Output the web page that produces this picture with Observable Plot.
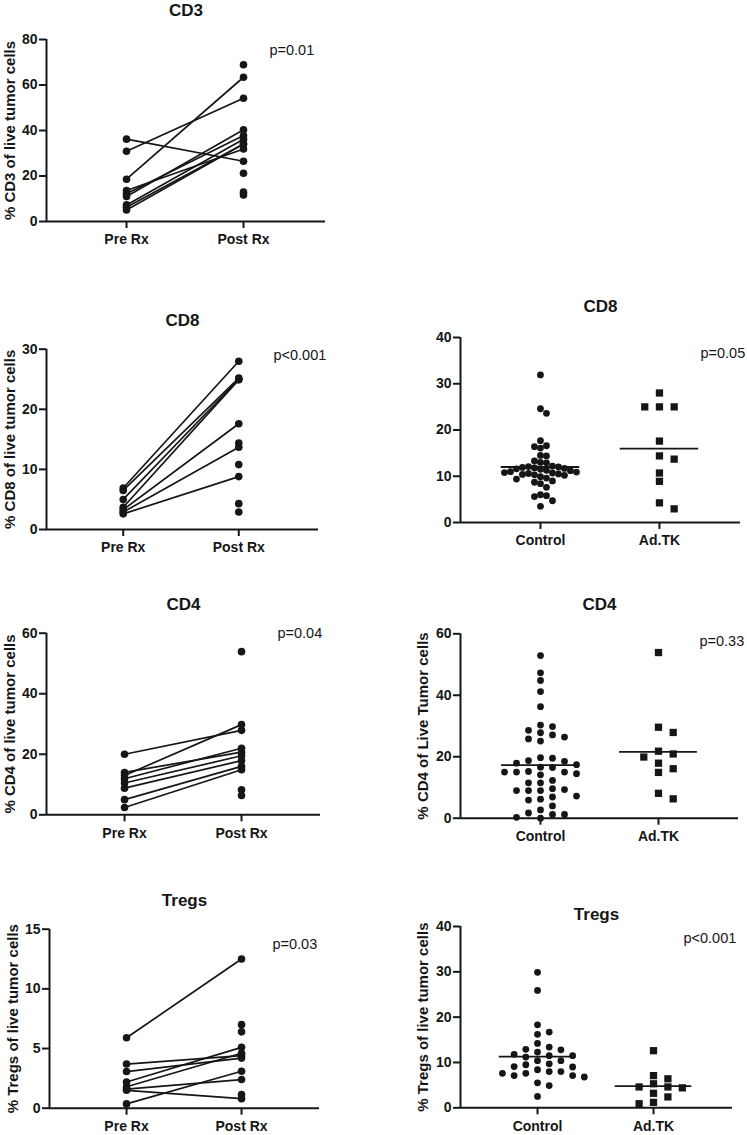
<!DOCTYPE html>
<html>
<head>
<meta charset="utf-8">
<script src="https://cdn.jsdelivr.net/npm/d3@7"></script>
<script src="https://cdn.jsdelivr.net/npm/@observablehq/plot@0.6"></script>
<style>
  html, body { margin: 0; padding: 0; background: #fff; }
  #page { position: relative; width: 747px; height: 1135px; overflow: hidden; background: #fff; }
  .panel { position: absolute; }
  .panel svg { overflow: visible; }
</style>
</head>
<body>
<div id="page"></div>
<script>
// ---------------- DATA ----------------
const pairedCategories = ["Pre Rx", "Post Rx"];
const groupCategories = ["Control", "Ad.TK"];

// CD3 (paired: pre[i] -> post[i]); unpaired post values drawn as dots only
const cd3Pre  = [36.2, 30.9, 18.6, 13.6, 12.2, 11.0, 7.3, 6.3, 5.1];
const cd3Post = [26.5, 54.2, 63.4, 31.9, 37.8, 40.3, 36.2, 34.1, 34.1];
const cd3PostUnpaired = [68.9, 21.2, 12.9, 11.7];
const cd3Ticks = [0, 20, 40, 60, 80];

// CD8 paired
const cd8Pre  = [6.9, 6.5, 5.0, 3.7, 3.3, 2.9, 2.6];
const cd8Post = [28.0, 25.2, 25.0, 24.9, 17.6, 13.7, 8.8];
const cd8PostUnpaired = [14.4, 10.8, 4.3, 2.9];
const cd8PairedTicks = [0, 10, 20, 30];

// CD4 paired
const cd4Pre  = [20.0, 14.0, 13.0, 11.9, 10.5, 8.8, 5.0, 2.4];
const cd4Post = [27.9, 20.7, 29.8, 22.0, 19.5, 17.9, 16.0, 14.9];
const cd4PostUnpaired = [53.9, 8.3, 6.4];
const cd4PairedTicks = [0, 20, 40, 60];

// Tregs paired
const tregPre  = [5.9, 3.7, 3.07, 2.2, 1.8, 1.6, 1.5, 0.36];
const tregPost = [12.5, 4.4, 4.2, 5.1, 4.6, 2.4, 0.8, 3.1];
const tregPostUnpaired = [7.0, 6.4, 1.15];
const tregPairedTicks = [0, 5, 10, 15];

// CD8 groups
const cd8Control = [31.9, 24.6, 23.6, 17.7, 16.6, 16.4, 16.1, 14.5, 14.4, 13.3, 13.0, 12.9,
  12.2, 12.1, 12.0, 11.9, 11.8, 11.7, 11.6, 11.5, 11.3, 11.2, 11.0, 10.9, 10.8, 10.7, 10.6, 10.5,
  10.4, 10.3, 10.2, 9.9, 9.6, 9.4, 9.0, 8.7, 8.4, 7.6, 6.0, 5.8, 5.6, 4.7, 3.5];
const cd8AdTK = [28.0, 25.0, 25.0, 25.0, 17.6, 14.4, 13.7, 10.7, 8.9, 4.25, 2.95];
const cd8GroupTicks = [0, 10, 20, 30, 40];

// CD4 groups
const cd4Control = [52.9, 47.3, 44.8, 41.2, 36.3, 30.3, 29.8, 28.6, 27.8, 27.1, 26.4, 25.8, 25.1,
  19.7, 19.5, 18.7, 18.5, 17.9, 17.4, 16.5, 16.6, 15.2, 15.0, 15.0, 15.0, 14.5, 14.1, 12.3, 11.5,
  11.5, 9.6, 9.3, 9.0, 9.0, 9.0, 7.2, 6.9, 6.2, 5.9, 4.0, 2.7, 1.7, 1.2, 1.2, 0.3, 0.0];
const cd4AdTK = [53.9, 29.6, 27.9, 21.8, 20.9, 19.9, 17.9, 16.1, 14.9, 8.1, 6.3];
const cd4GroupTicks = [0, 20, 40, 60];

// Tregs groups
const tregControl = [29.9, 25.9, 18.3, 16.7, 16.2, 14.2, 12.9, 13.4, 12.3, 12.8, 11.5, 11.5, 11.2,
  11.8, 10.4, 10.4, 9.7, 9.5, 8.4, 9.0, 9.1, 8.0, 7.6, 7.6, 8.0, 6.8, 7.1, 7.1, 4.9, 5.5, 2.5];
const tregAdTK = [12.6, 7.1, 6.4, 5.3, 4.6, 4.6, 4.4, 3.2, 2.4, 1.2, 0.9];
const tregGroupTicks = [0, 10, 20, 30, 40];

const titles = { cd3: "CD3", cd8: "CD8", cd4: "CD4", treg: "Tregs" };
const pValues = { cd3: "p=0.01", cd8Paired: "p<0.001", cd4Paired: "p=0.04", tregPaired: "p=0.03",
  cd8Group: "p=0.05", cd4Group: "p=0.33", tregGroup: "p<0.001" };
const yLabels = {
  cd3: "% CD3 of live tumor cells", cd8: "% CD8 of live tumor cells",
  cd4: "% CD4 of live tumor cells", treg: "% Tregs of live tumor cells",
  cd4Group: "% CD4 of Live Tumor cells", tregGroup: "% Tregs of live tumor cells"
};

// ---------------- STYLE / LAYOUT ----------------
const FONT = "'Liberation Sans', Arial, Helvetica, sans-serif";
const INK = "#161616";

function axes(L, yTicks, cats) {
  const ymax = yTicks[yTicks.length - 1];
  return [
    Plot.ruleX([L.xDomain[0]], {y1: 0, y2: ymax, stroke: INK, strokeWidth: 2}),
    Plot.ruleY([0], {stroke: INK, strokeWidth: 2}),
    Plot.axisY({ticks: yTicks, tickSize: 7, tickPadding: 2, tickFormat: d => String(d),
      fontSize: 14, fontWeight: "bold", stroke: INK, strokeWidth: 2, fill: INK, label: null}),
    Plot.axisX({ticks: [0, 1], tickSize: 7, tickPadding: 6, tickFormat: i => cats[i],
      fontSize: 14, fontWeight: "bold", stroke: INK, strokeWidth: 2, fill: INK, label: null})
  ];
}

function labels(L, title, p, ylabel) {
  const m = [
    Plot.text([title], {text: d => d, frameAnchor: "top", dy: L.titleDy, lineAnchor: "middle",
      fontSize: 17, fontWeight: "bold", fill: INK}),
    Plot.text([p], {text: d => d, frameAnchor: "top-left", dx: L.pDx, dy: L.pDy, textAnchor: "start",
      lineAnchor: "middle", fontSize: 14.5, fontWeight: "normal", fill: INK})
  ];
  if (ylabel) m.push(Plot.text([ylabel], {text: d => d, frameAnchor: "left", rotate: -90, dx: L.labelDx,
      lineAnchor: "middle", textAnchor: "middle", fontSize: 15, fontWeight: "bold", fill: INK}));
  return m;
}

function base(L, yTicks) {
  return {
    width: L.width, height: L.height,
    marginLeft: L.ml, marginRight: L.mr, marginTop: L.mt, marginBottom: L.mb,
    x: {domain: L.xDomain},
    y: {domain: [0, yTicks[yTicks.length - 1]]},
    style: {fontFamily: FONT, color: INK, background: "transparent", overflow: "visible"}
  };
}

function pairedPlot(L, pre, post, postOnly, yTicks, title, p, ylabel) {
  const lines = pre.flatMap((v, i) => [{id: i, x: 0, y: v}, {id: i, x: 1, y: post[i]}]);
  const dots = [
    ...pre.map(v => ({x: 0, y: v})),
    ...post.map(v => ({x: 1, y: v})),
    ...postOnly.map(v => ({x: 1, y: v}))
  ];
  return Plot.plot({
    ...base(L, yTicks),
    marks: [
      ...axes(L, yTicks, pairedCategories),
      Plot.line(lines, {x: "x", y: "y", z: "id", stroke: INK, strokeWidth: 1.7}),
      Plot.dot(dots, {x: "x", y: "y", r: 3.8, fill: INK, stroke: "none"}),
      ...labels(L, title, p, ylabel)
    ]
  });
}

// column-wise scatter layout (GraphPad-like): each point goes to the column nearest the
// centre in which it does not overlap vertically with points already placed there
function columnOffsets(values, pxPerUnit, gap, spacing) {
  const order = d3.range(values.length).sort((a, b) => values[b] - values[a]);
  const cols = new Map();
  const off = new Array(values.length);
  for (const i of order) {
    const y = values[i] * pxPerUnit;
    for (let k = 0; k < 200; k++) {
      const c = k === 0 ? 0 : (k % 2 ? (k + 1) / 2 : -k / 2);
      const ys = cols.get(c) || [];
      if (ys.every(v => Math.abs(v - y) >= gap)) {
        ys.push(y); cols.set(c, ys); off[i] = c * spacing; break;
      }
    }
  }
  return off;
}

function groupPlot(L, control, adtk, yTicks, title, p, ylabel) {
  const ymax = yTicks[yTicks.length - 1];
  const frameW = L.width - L.ml - L.mr, frameH = L.height - L.mt - L.mb;
  const pxX = frameW / (L.xDomain[1] - L.xDomain[0]);
  const pxY = frameH / ymax;
  const offC = columnOffsets(control, pxY, L.swarm[0].gap, L.swarm[0].spacing);
  const offT = columnOffsets(adtk, pxY, L.swarm[1].gap, L.swarm[1].spacing);
  const ptsC = control.map((v, j) => ({x: 0 + offC[j] / pxX, y: v}));
  const ptsT = adtk.map((v, j) => ({x: 1 + offT[j] / pxX, y: v}));
  const means = [{g: 0, y: d3.mean(control)}, {g: 1, y: d3.mean(adtk)}];
  return Plot.plot({
    ...base(L, yTicks),
    marks: [
      ...axes(L, yTicks, groupCategories),
      Plot.dot(ptsC, {x: "x", y: "y", r: 3.4, fill: INK, stroke: "none"}),
      Plot.dot(ptsT, {x: "x", y: "y", r: 4.1, symbol: "square", fill: INK, stroke: "none"}),
      Plot.ruleY(means, {y: "y", x1: d => d.g - 0.33, x2: d => d.g + 0.33, stroke: INK, strokeWidth: 1.8}),
      ...labels(L, title, p, ylabel)
    ]
  });
}

const layout = {
  cd3:  {left: 0, top: 0,   width: 345, height: 260, ml: 46, mr: 20, mt: 39,   mb: 39,
         xDomain: [-0.684, 1.701], titleDy: -29, pDx: 223, pDy: 11, labelDx: -36},
  cd8p: {left: 0, top: 290, width: 345, height: 275, ml: 46, mr: 27, mt: 58.7, mb: 36,
         xDomain: [-0.664, 1.690], titleDy: -28.7, pDx: 227, pDy: 6.3, labelDx: -36},
  cd4p: {left: 0, top: 575, width: 345, height: 275, ml: 46, mr: 25, mt: 57.7, mb: 35.7,
         xDomain: [-0.667, 1.675], titleDy: -28.7, pDx: 231, pDy: 0.5, labelDx: -36},
  tregp:{left: 0, top: 875, width: 345, height: 260, ml: 49, mr: 26, mt: 53.7, mb: 27.3,
         xDomain: [-0.670, 1.678], titleDy: -28.7, pDx: 223, pDy: 15.3, labelDx: -36.5},
  cd8g: {left: 380, top: 290, width: 367, height: 260, ml: 80, mr: 7, mt: 47, mb: 28,
         xDomain: [-0.672, 1.681], titleDy: -30.5, pDx: 240, pDy: 16, labelDx: -37,
         swarm: [{gap: 6.6, spacing: 6}, {gap: 8, spacing: 14.7}]},
  cd4g: {left: 380, top: 575, width: 367, height: 275, ml: 80, mr: 9, mt: 58.3, mb: 32.3,
         xDomain: [-0.678, 1.678], titleDy: -29.3, pDx: 239, pDy: 7.7, labelDx: -37,
         swarm: [{gap: 7.6, spacing: 12}, {gap: 8, spacing: 14.7}]},
  tregg:{left: 380, top: 875, width: 367, height: 260, ml: 80, mr: 15, mt: 51, mb: 27.7,
         xDomain: [-0.664, 1.681], titleDy: -12, pDx: 223, pDy: 12, labelDx: -37,
         swarm: [{gap: 7.4, spacing: 11.7}, {gap: 8, spacing: 14.4}]}
};

const page = document.getElementById("page");
function place(L, svg) {
  const div = document.createElement("div");
  div.className = "panel";
  div.style.left = L.left + "px";
  div.style.top = L.top + "px";
  div.appendChild(svg);
  page.appendChild(div);
}

place(layout.cd3, pairedPlot(layout.cd3, cd3Pre, cd3Post, cd3PostUnpaired, cd3Ticks, titles.cd3, pValues.cd3, yLabels.cd3));
place(layout.cd8p, pairedPlot(layout.cd8p, cd8Pre, cd8Post, cd8PostUnpaired, cd8PairedTicks, titles.cd8, pValues.cd8Paired, yLabels.cd8));
place(layout.cd4p, pairedPlot(layout.cd4p, cd4Pre, cd4Post, cd4PostUnpaired, cd4PairedTicks, titles.cd4, pValues.cd4Paired, yLabels.cd4));
place(layout.tregp, pairedPlot(layout.tregp, tregPre, tregPost, tregPostUnpaired, tregPairedTicks, titles.treg, pValues.tregPaired, yLabels.treg));
place(layout.cd8g, groupPlot(layout.cd8g, cd8Control, cd8AdTK, cd8GroupTicks, titles.cd8, pValues.cd8Group, null));
place(layout.cd4g, groupPlot(layout.cd4g, cd4Control, cd4AdTK, cd4GroupTicks, titles.cd4, pValues.cd4Group, yLabels.cd4Group));
place(layout.tregg, groupPlot(layout.tregg, tregControl, tregAdTK, tregGroupTicks, titles.treg, pValues.tregGroup, yLabels.tregGroup));
</script>
</body>
</html>
